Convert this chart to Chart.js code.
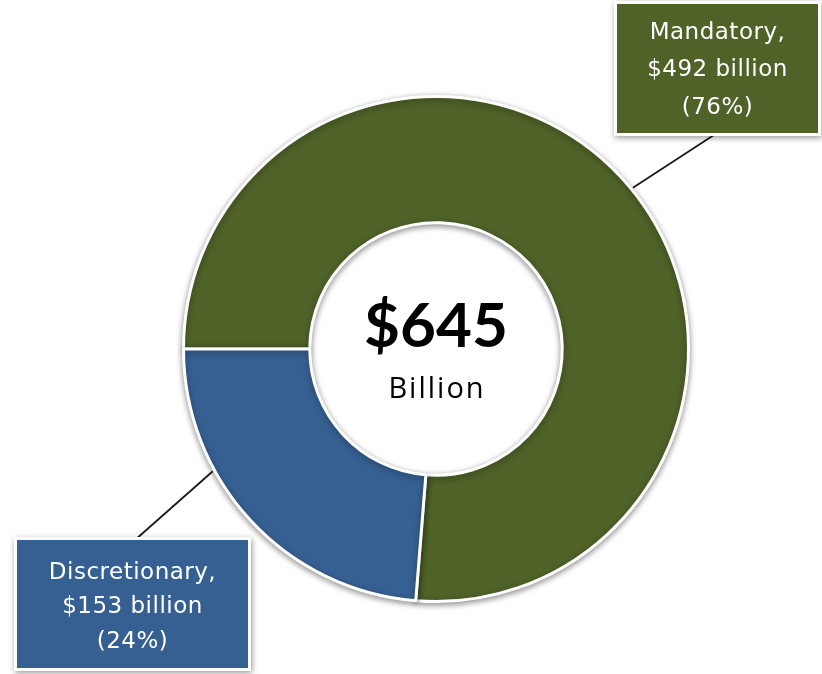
<!DOCTYPE html>
<html>
<head>
<meta charset="utf-8">
<script src="https://cdn.jsdelivr.net/npm/chart.js@4"></script>
<style>
  html, body { margin: 0; padding: 0; background: #fff; }
  #wrap { width: 822px; height: 674px; position: relative; }
</style>
</head>
<body>
<div id="wrap"><canvas id="budgetChart" width="822" height="674"></canvas></div>
<script>
const categories = ["Mandatory", "Discretionary"];
const values = [492, 153];          // $ billion
const shares = [76, 24];            // percent
const totalLabel = "$645";
const totalUnit = "Billion";
const colors = ["#4f6228", "#366092"];

// callout boxes: box rect + anchor angle on the ring (degrees clockwise from top)
const callouts = [
  { box: [617, 4, 201, 129], lineEnd: [717, 133], angle: 50.7, textTop: 29, lineGap: 37.5 },
  { box: [17, 540, 231, 128], lineEnd: [135, 540], angle: 241.3, textTop: 33, lineGap: 34.5 },
];

const ringShadow = {
  id: "ringShadow",
  beforeDatasetsDraw(chart) {
    const ctx = chart.ctx;
    ctx.save();
    ctx.shadowColor = "rgba(0,0,0,0.4)";
    ctx.shadowBlur = 6;
    ctx.shadowOffsetX = 0;
    ctx.shadowOffsetY = 2;
  },
  afterDatasetsDraw(chart) {
    chart.ctx.restore();
  },
};

const decorations = {
  id: "decorations",
  afterDraw(chart) {
    const ctx = chart.ctx;
    const arc = chart.getDatasetMeta(0).data[0];
    const cx = arc.x, cy = arc.y, r = arc.outerRadius;

    // centre text
    ctx.save();
    ctx.fillStyle = "#000";
    ctx.textAlign = "center";
    ctx.textBaseline = "middle";
    ctx.font = "bold 62px Lato, 'Open Sans', sans-serif";
    ctx.fillText(totalLabel, cx, cy - 22);
    ctx.font = "29px 'Open Sans', Lato, sans-serif";
    ctx.letterSpacing = "2px";
    ctx.fillText(totalUnit, cx + 1, cy + 41);
    ctx.restore();

    callouts.forEach((c, i) => {
      const a = (c.angle - 90) * Math.PI / 180;
      const ax = cx + Math.cos(a) * (r + 2);
      const ay = cy + Math.sin(a) * (r + 2);
      ctx.save();
      ctx.strokeStyle = "#1a1a1a";
      ctx.lineWidth = 1.8;
      ctx.beginPath();
      ctx.moveTo(ax, ay);
      ctx.lineTo(c.lineEnd[0], c.lineEnd[1]);
      ctx.stroke();

      const [x, y, w, h] = c.box;
      ctx.shadowColor = "rgba(0,0,0,0.4)";
      ctx.shadowBlur = 6;
      ctx.shadowOffsetX = 1;
      ctx.shadowOffsetY = 2;
      ctx.fillStyle = "#fff";
      ctx.fillRect(x - 3, y - 3, w + 6, h + 6);
      ctx.shadowColor = "transparent";
      ctx.fillStyle = colors[i];
      ctx.fillRect(x, y, w, h);

      ctx.fillStyle = "#fff";
      ctx.textAlign = "center";
      ctx.textBaseline = "middle";
      ctx.font = "23px 'DejaVu Sans', sans-serif";
      ctx.letterSpacing = "0.5px";
      const lines = [categories[i] + ",", "$" + values[i] + " billion", "(" + shares[i] + "%)"];
      lines.forEach((t, k) => ctx.fillText(t, x + w / 2, y + c.textTop + k * c.lineGap));
      ctx.restore();
    });
  },
};

new Chart(document.getElementById("budgetChart").getContext("2d"), {
  type: "doughnut",
  data: {
    labels: categories,
    datasets: [{
      data: values,
      backgroundColor: colors,
      borderColor: "#ffffff",
      borderWidth: 3,
    }],
  },
  options: {
    responsive: false,
    animation: false,
    rotation: -90,
    cutout: "50%",
    layout: { padding: { left: 50, right: 0, top: 95, bottom: 71 } },
    plugins: { legend: { display: false }, tooltip: { enabled: false } },
  },
  plugins: [ringShadow, decorations],
});
</script>
</body>
</html>
